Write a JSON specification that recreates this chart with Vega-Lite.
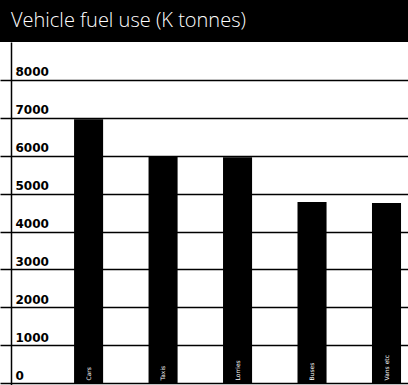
{
  "$schema": "https://vega.github.io/schema/vega-lite/v6.json",
  "width": 408,
  "height": 343,
  "autosize": {"type": "none"},
  "padding": {"top": 42, "left": 0, "right": 0, "bottom": 0},
  "background": "black",
  "title": {
    "text": "Vehicle fuel use (K tonnes)",
    "anchor": "start",
    "frame": "group",
    "color": "white",
    "font": "Open Sans",
    "fontSize": 20,
    "fontWeight": 300,
    "baseline": "alphabetic",
    "offset": -5,
    "dx": 11
  },
  "data": {
    "values": [
      {"vehicle": "Cars", "fuel": 6960},
      {"vehicle": "Taxis", "fuel": 5990},
      {"vehicle": "Lorries", "fuel": 5960},
      {"vehicle": "Buses", "fuel": 4780},
      {"vehicle": "Vans etc", "fuel": 4750}
    ]
  },
  "mark": {"type": "bar", "color": "black"},
  "encoding": {
    "x": {
      "field": "vehicle",
      "type": "nominal",
      "sort": null,
      "scale": {"paddingInner": 0.61, "paddingOuter": 0.544, "align": 0.914},
      "axis": {
        "title": null,
        "domain": false,
        "ticks": false,
        "labelAngle": -90,
        "labelAlign": "left",
        "labelBaseline": "middle",
        "labelPadding": -5,
        "labelColor": "white",
        "labelFont": "DejaVu Sans",
        "labelFontSize": 6,
        "zindex": 1
      }
    },
    "y": {
      "field": "fuel",
      "type": "quantitative",
      "scale": {"domain": [-50, 9000], "nice": false, "zero": false},
      "axis": {
        "title": null,
        "values": [0, 1000, 2000, 3000, 4000, 5000, 6000, 7000, 8000],
        "format": "d",
        "offset": -11,
        "domainColor": "black",
        "domainWidth": 1.5,
        "ticks": false,
        "grid": true,
        "gridColor": "black",
        "gridWidth": 1.6,
        "gridOpacity": 1,
        "labelAlign": "left",
        "labelBaseline": "alphabetic",
        "labelPadding": -4,
        "labelOffset": -4,
        "labelColor": "black",
        "labelFont": "DejaVu Sans",
        "labelFontWeight": "bold",
        "labelFontSize": 12
      }
    }
  },
  "config": {
    "view": {"fill": "white", "stroke": null}
  }
}
